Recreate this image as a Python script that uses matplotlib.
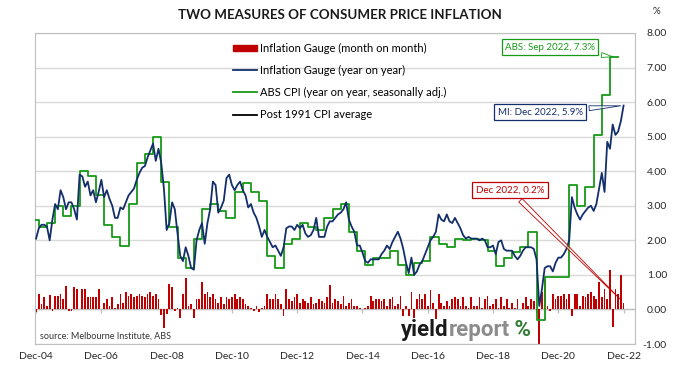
import numpy as np
import matplotlib
matplotlib.use('Agg')
import matplotlib.pyplot as plt
from matplotlib.patches import Patch
from matplotlib.lines import Line2D
from matplotlib.offsetbox import TextArea, HPacker, AnnotationBbox

plt.rcParams['font.family'] = ['Lato', 'DejaVu Sans']

# monthly, first value = Dec 2004, last = Dec 2022
mi_yoy = [2.05,
          2.35, 2.45, 2.45, 2.4, 2.0, 2.6, 3.05, 2.9, 3.45, 3.25, 2.9, 3.1,
          3.1, 2.9, 2.6, 3.9, 3.85, 3.55, 3.7, 3.3, 3.45, 3.1, 3.4, 3.75,
          3.25, 3.45, 3.2, 3.0, 2.65, 2.65, 2.95, 2.9, 3.1, 3.3, 3.4, 3.5,
          3.75, 3.95, 4.1, 4.15, 4.4, 4.6, 4.8, 4.3, 4.65, 4.25, 3.5, 2.3,
          2.5, 3.1, 2.9, 2.2, 1.55, 1.4, 1.8, 1.55, 1.2, 1.15, 2.0, 2.3,
          2.5, 1.9, 2.5, 2.9, 3.7, 3.6, 2.8, 2.95, 3.15, 3.8, 3.9, 3.6,
          3.45, 3.6, 3.7, 3.45, 3.3, 2.95, 3.05, 2.8, 2.65, 2.4, 2.1, 2.3,
          2.1, 1.95, 1.8, 1.85, 1.7, 1.55, 1.8, 2.35, 2.4, 2.4, 2.3, 2.45,
          2.35, 2.45, 2.2, 2.1, 2.15, 2.3, 2.65, 2.1, 2.1, 2.1, 2.4, 2.55,
          2.55, 2.65, 2.75, 2.8, 2.9, 3.1, 2.6, 2.4, 2.25, 1.85, 1.85, 1.65,
          1.4, 1.35, 1.45, 1.45, 1.45, 1.45, 1.6, 1.7, 1.85, 1.75, 1.95, 2.1,
          2.25, 2.05, 1.75, 1.35, 1.05, 1.5, 1.0, 1.1, 1.3, 1.4, 1.6, 1.8,
          2.0, 2.1, 2.25, 2.75, 2.6, 2.55, 2.75, 2.55, 2.5, 2.65, 2.5, 2.35,
          2.15, 2.05, 2.1, 2.05, 2.05, 2.05, 2.0, 2.05, 2.0, 1.8, 1.8, 1.85,
          1.6, 1.95, 2.0, 1.75, 1.7, 1.7, 1.7, 1.55, 1.45, 1.55, 1.7, 1.8,
          1.8, 1.8, 1.75, 1.45, 0.1, 0.6, 1.2, 1.25, 1.25, 1.1, 1.35, 1.5,
          1.5, 1.6, 1.75, 2.0, 3.25, 2.95, 2.75, 2.6, 2.75, 2.85, 2.95, 3.0,
          2.85, 3.05, 3.5, 3.95, 3.4, 4.85, 4.65, 5.35, 5.05, 5.15, 5.45, 5.9]

mi_mom = [-0.08,
          0.45, 0.15, 0.35, 0.1, 0.42, -0.05, 0.4, 0.4, 0.45, 0.3, 0.68, -0.05,
          -0.05, 0.65, 0.6, 0.0, 0.6, 0.6, 0.35, 0.35, 0.35, 0.35, 0.6, 0.0,
          0.2, 0.3, 0.1, 0.35, 0.05, 0.15, 0.45, 0.2, 0.5, 0.4, 0.45, 0.35,
          0.4, 0.45, 0.4, 0.35, 0.45, 0.5, 0.4, 0.45, 0.3, -0.15, -0.55, -0.12,
          0.75, 0.65, -0.05, 0.05, -0.25, 0.45, 0.9, 0.1, 0.15, -0.25, 0.3, 0.3,
          0.8, 0.45, 0.5, 0.35, 0.45, 0.3, 0.2, 0.35, 0.15, 0.35, 0.3, 0.35,
          0.45, 0.3, 0.35, 0.3, 0.15, 0.1, 0.05, -0.05, 0.1, -0.08, 0.05, 0.1,
          0.45, 0.3, 0.3, 0.45, 0.3, 0.15, -0.2, 0.6, 0.3, 0.25, 0.35, 0.45,
          0.2, 0.3, 0.25, 0.2, 0.35, 0.15, 0.2, 0.3, 0.25, 0.2, 0.35, 0.7,
          0.2, 0.3, 0.25, 0.15, 0.4, 0.1, 0.2, 0.3, 0.1, 0.1, 0.05, 0.0,
          0.05, 0.1, 0.4, 0.25, 0.3, 0.3, 0.25, 0.3, 0.1, 0.3, 0.35, 0.1,
          0.15, 0.4, -0.2, 0.1, -0.2, 0.5, -0.25, 0.3, 0.45, 0.3, 0.45, 0.1,
          0.55, 0.2, -0.28, 0.45, 0.2, 0.1, 0.25, 0.1, 0.3, 0.35, 0.3, 0.1,
          0.35, 0.1, 0.05, 0.35, 0.1, 0.1, 0.35, 0.05, 0.3, 0.4, 0.1, 0.15,
          0.3, 0.05, 0.35, 0.1, 0.3, 0.05, 0.2, 0.05, 0.3, 0.0, 0.2, 0.35,
          0.1, 0.3, 0.25, -0.1, -1.3, 0.5, 0.85, 0.1, -0.05, 0.45, 0.3, 0.4,
          0.4, 0.45, 0.3, 0.45, -0.2, 0.45, 0.45, 0.1, 0.4, 0.35, 0.45, 0.5,
          0.4, 0.3, 0.8, 0.35, 0.6, 0.3, 1.15, -0.5, 0.6, 0.45, 1.0, 0.2]

# quarterly, Dec 2004 then Mar 2005 ... Sep 2022
abs_cpi = [2.6,
           2.4, 2.5, 3.0, 2.7,
           3.0, 4.0, 3.85, 3.3,
           2.45, 2.1, 1.85, 3.05,
           4.25, 4.5, 5.0, 3.7,
           2.4, 1.5, 1.2, 2.05,
           2.9, 3.05, 2.85, 2.65,
           3.4, 3.65, 3.4, 3.15,
           1.55, 1.2, 1.9, 2.05,
           2.5, 2.4, 2.3, 2.65,
           2.9, 3.05, 2.25, 1.7,
           1.3, 1.5, 1.5, 1.7,
           1.3, 1.0, 1.35, 1.4,
           2.1, 1.9, 1.8, 2.05,
           2.0, 2.05, 2.0, 1.7,
           1.25, 1.5, 1.65, 1.8,
           2.25, -0.3, 0.95, 0.95,
           0.95, 3.6, 3.0, 3.55,
           5.05, 6.2, 7.3]

tick_labels = ['Dec-04', 'Dec-06', 'Dec-08', 'Dec-10', 'Dec-12',
               'Dec-14', 'Dec-16', 'Dec-18', 'Dec-20', 'Dec-22']

RED = '#c00000'
NAVY = '#132f6b'
GREEN = '#179a17'
GRID = '#d9d9d9'

months = np.arange(len(mi_yoy))
# quarter values hold from the first month of each quarter
q_start = np.r_[0, 1 + 3 * np.arange(len(abs_cpi) - 1)]
q_x = np.r_[q_start, q_start[-1] + 3]
q_y = np.r_[abs_cpi, abs_cpi[-1]]

fig = plt.figure(figsize=(6.8, 3.67), dpi=100)
ax = fig.add_axes([35 / 680, 23 / 367, 600 / 680, 311 / 367])

ax.bar(months, mi_mom, width=0.65, color=RED, zorder=2)
ax.step(q_x, q_y, where='post', color=GREEN, lw=1.3, zorder=3)
ax.plot(months, mi_yoy, color=NAVY, lw=1.3, zorder=4)

ax.set_xlim(-0.4, 220.2)
ax.set_ylim(-1, 8)
ax.set_yticks(np.arange(-1, 9))
ax.set_yticklabels(['%.2f' % v for v in np.arange(-1, 9)])
ax.yaxis.tick_right()
ax.tick_params(axis='y', length=0, pad=23, labelsize=7.5, colors='#262626')
for lab in ax.get_yticklabels():
    lab.set_horizontalalignment('right')
ax.grid(axis='y', color=GRID, lw=1, zorder=0)
ax.set_axisbelow(True)

tick_pos = months[::24]
ax.set_xticks(tick_pos)
ax.set_xticklabels(tick_labels)
ax.tick_params(axis='x', length=0, pad=6, labelsize=7.5, colors='#262626')
ax.axhline(0, color='#bfbfbf', lw=0.9, zorder=1)
ax.vlines(tick_pos, -0.09, 0, color='#bfbfbf', lw=0.9, zorder=1)

for s in ax.spines.values():
    s.set_color('#bfbfbf')
    s.set_linewidth(0.8)

handles = [Patch(color=RED), Line2D([], [], color=NAVY, lw=1.3),
           Line2D([], [], color=GREEN, lw=1.3), Line2D([], [], color='black', lw=1.3)]
labels = ['Inflation Gauge (month on month)', 'Inflation Gauge (year on year)',
          'ABS CPI (year on year, seasonally adj.)', 'Post 1991 CPI average']
ax.legend(handles, labels, loc='upper left', bbox_to_anchor=(0.33, 0.969),
          frameon=False, fontsize=8, handlelength=2.2, handleheight=0.5,
          handletextpad=0.2, labelspacing=1.0, borderpad=0, borderaxespad=0)


def callout(text, xy, xytext, color):
    ax.annotate(text, xy=xy, xycoords='data', xytext=xytext,
                textcoords='figure pixels', ha='center', va='center',
                fontsize=7, color=color, zorder=6,
                bbox=dict(boxstyle='square,pad=0.35', fc='white', ec=color, lw=0.9),
                arrowprops=dict(arrowstyle='wedge,tail_width=0.5,shrink_factor=0.5',
                                fc=(1, 1, 1, 0.5), ec=color, lw=0.6))


callout('ABS: Sep 2022, 7.3%', (213, abs_cpi[-1]), (550, 367 - 47), GREEN)
callout('MI: Dec 2022, 5.9%', (216, mi_yoy[-1]), (540, 367 - 112), NAVY)
callout('Dec 2022, 0.2%', (216, mi_mom[-1]), (510, 367 - 190), RED)

fig.text(0.5, 1 - 15 / 367, 'TWO MEASURES OF CONSUMER PRICE INFLATION',
         ha='center', va='center', fontsize=9.6, fontweight='bold', color='#1a1a1a')
fig.text(656 / 680, 1 - 12 / 367, '%', ha='center', va='center', fontsize=7, color='#262626')
fig.text(40 / 680, 1 - 336 / 367, 'source: Melbourne Institute, ABS',
         ha='left', va='center', fontsize=6.5, color='#333333')

logo_font = dict(fontfamily='Roboto', fontweight='bold', fontsize=16)
logo = HPacker(children=[TextArea('yield', textprops=dict(color='#1a1a1a', **logo_font)),
                         TextArea('report', textprops=dict(color='#8c8c8c', **logo_font)),
                         TextArea(' %', textprops=dict(color='#2e7d32', **logo_font))],
               pad=0, sep=0, align='baseline')
fig.add_artist(AnnotationBbox(logo, (466, 367 - 330), xycoords='figure pixels',
                              frameon=False, box_alignment=(0.5, 0.5), zorder=7))

fig.savefig('out.png', dpi=100)
